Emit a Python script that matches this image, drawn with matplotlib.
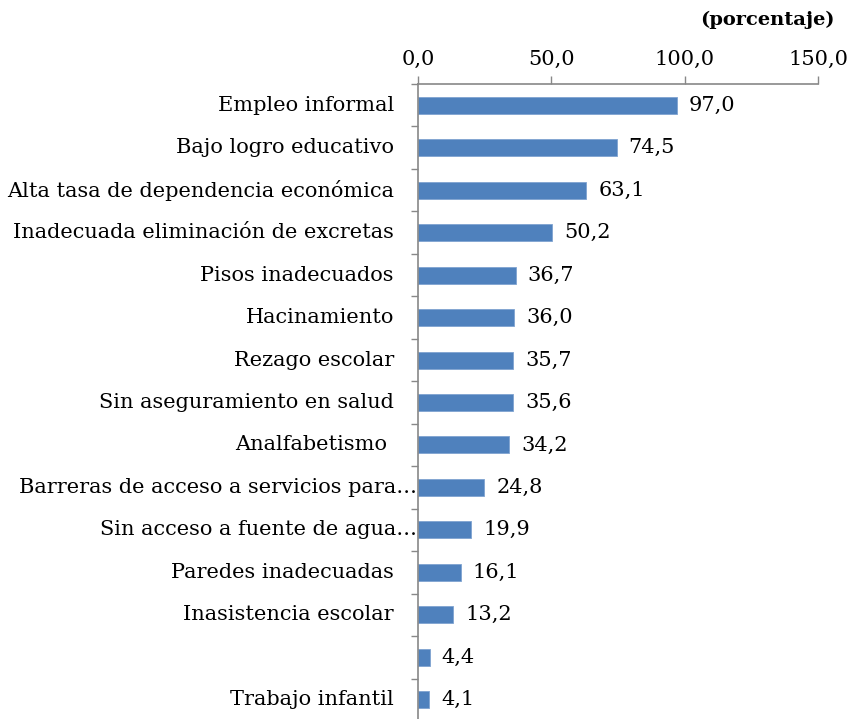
import matplotlib
matplotlib.use("Agg")
import matplotlib.pyplot as plt
from matplotlib.transforms import offset_copy
import numpy as np

categories = [
    "Empleo informal",
    "Bajo logro educativo",
    "Alta tasa de dependencia económica",
    "Inadecuada eliminación de excretas",
    "Pisos inadecuados",
    "Hacinamiento",
    "Rezago escolar",
    "Sin aseguramiento en salud",
    "Analfabetismo ",
    "Barreras de acceso a servicios para…",
    "Sin acceso a fuente de agua…",
    "Paredes inadecuadas",
    "Inasistencia escolar",
    "",
    "Trabajo infantil",
]
values = [97.0, 74.5, 63.1, 50.2, 36.7, 36.0, 35.7, 35.6, 34.2, 24.8, 19.9, 16.1, 13.2, 4.4, 4.1]
truncated = [False]*9 + [True, True] + [False]*4
xticks = [0, 50, 100, 150]

FONT = "DejaVu Serif"
FS = 15
plt.rcParams['font.family'] = [FONT]

fig = plt.figure(figsize=(8.49, 7.19), dpi=100)
ax = fig.add_axes([418/849, -2/719, 400/849, (721-84)/719])

n = len(categories)
y = np.arange(n)
ax.barh(y, values, height=0.4, color="#4F81BD", edgecolor="#7FA3D0", linewidth=0.6)
ax.set_xlim(0, 150)
ax.set_ylim(n - 0.5, -0.5)

ax.xaxis.tick_top()
ax.set_xticks(xticks)
ax.set_xticklabels([f"{v:.1f}".replace(".", ",") for v in xticks], fontsize=FS)
ax.tick_params(axis='x', direction='out', length=6, width=1, color="#888888", pad=5, labelcolor="black")

ax.set_yticks(np.arange(n + 1) - 0.5, minor=True)
ax.set_yticks([])
ax.tick_params(axis='y', which='minor', direction='out', length=5, width=1, color="#888888")

for s in ["right", "bottom"]:
    ax.spines[s].set_visible(False)
for s in ["top", "left"]:
    ax.spines[s].set_color("#888888")
    ax.spines[s].set_linewidth(1.2)

for i, (c, v, t) in enumerate(zip(categories, values, truncated)):
    off = -1 if t else -24
    tr = offset_copy(ax.get_yaxis_transform(), fig=fig, x=off, y=0, units='dots')
    ax.text(0, i, c, transform=tr, ha='right', va='center', fontsize=FS)
    ax.annotate(f"{v:.1f}".replace(".", ","), (v, i), xytext=(12, 0), textcoords='offset pixels',
                ha='left', va='center', fontsize=FS)

fig.text(835/849, 1 - 20/719, "(porcentaje)", ha='right', va='center', fontsize=14, fontweight='bold')

fig.savefig("out.png", dpi=100)
